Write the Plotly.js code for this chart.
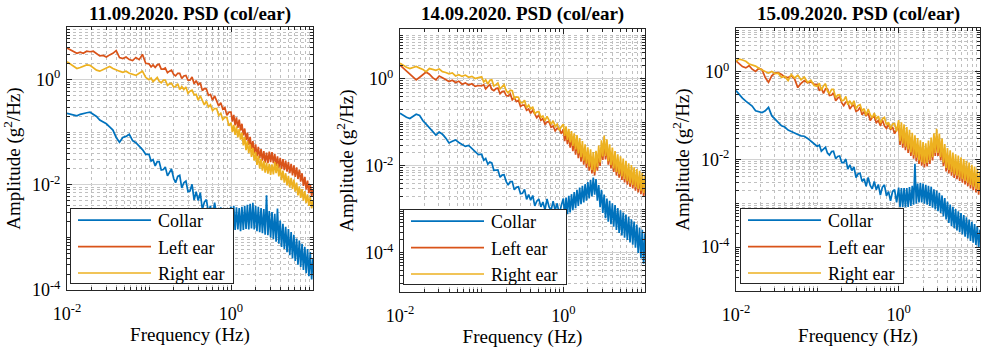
<!DOCTYPE html>
<html><head><meta charset="utf-8">
<script src="https://cdn.plot.ly/plotly-3.0.1.min.js"></script>
<style>html,body{margin:0;padding:0;background:#fff;}#chart{width:985px;height:348px;}</style>
</head><body><div id="chart"></div>
<script>
// Frequency (Hz), shared by every series
const frequency = [
0.0100,0.0110,0.0120,0.0132,0.0145,0.0158,0.0174,0.0191,0.0209,0.0229,0.0251,0.0275,0.0302,0.0331,0.0363,0.0398,0.0437,0.0479,0.0525,0.0575,0.0631,0.0692,0.0759,0.0832,0.0912,
0.100,0.106,0.112,0.119,0.126,0.133,0.141,0.150,0.158,0.168,0.178,0.188,0.200,0.211,0.224,0.237,0.251,0.266,0.282,0.299,0.316,0.335,0.355,0.376,0.398,0.422,0.447,0.473,0.501,0.531,0.562,0.596,0.631,0.668,0.708,0.750,0.794,0.841,0.891,0.944,
1.000,1.039,1.080,1.122,1.166,1.212,1.259,1.308,1.359,1.413,1.468,1.526,1.585,1.647,1.711,1.778,1.848,1.920,1.995,2.073,2.154,2.239,2.326,2.417,2.512,2.610,2.712,2.818,2.929,3.043,3.162,3.286,3.415,3.548,3.687,3.831,3.981,4.137,4.299,4.467,4.642,4.823,5.012,5.208,5.412,5.623,5.843,6.072,6.310,6.556,6.813,7.079,7.356,7.644,7.943,8.254,8.577,8.913,9.261,9.624,10.00];

// Amplitude, stored as log10(g^2/Hz)
const collar1Log = [
-0.64,-0.66,-0.68,-0.69,-0.66,-0.64,-0.63,-0.62,-0.66,-0.70,-0.77,-0.80,-0.84,-0.90,-0.96,-1.10,-1.19,-1.10,-1.08,-1.04,-1.16,-1.20,-1.26,-1.33,-1.42,
-1.42,-1.55,-1.52,-1.64,-1.56,-1.56,-1.72,-1.71,-1.66,-1.83,-1.75,-1.70,-1.88,-1.96,-1.84,-1.82,-2.06,-1.96,-1.93,-2.13,-2.12,-1.99,-2.29,-2.13,-2.30,-2.15,-2.47,-2.33,-2.28,-2.52,-2.40,-2.63,-2.34,-2.57,-2.68,-2.43,-2.68,-2.48,-2.79,-2.53,
-2.42,-2.84,-2.40,-2.86,-2.43,-2.85,-2.44,-2.88,-2.42,-2.86,-2.40,-2.84,-2.38,-2.85,-2.36,-2.83,-2.34,-2.85,-2.40,-2.88,-2.42,-2.90,-2.44,-2.92,-2.46,-2.95,-2.20,-2.96,-2.50,-3.00,-2.52,-3.03,-2.55,-3.08,-2.45,-3.12,-2.68,-3.18,-2.74,-3.22,-2.80,-3.28,-2.84,-3.34,-2.90,-3.40,-2.95,-3.45,-3.02,-3.52,-3.06,-3.56,-3.12,-3.62,-3.18,-3.68,-3.22,-3.74,-3.28,-3.80,-3.40];
const leftEar1Log = [
0.60,0.57,0.53,0.50,0.52,0.50,0.54,0.53,0.54,0.49,0.45,0.46,0.43,0.47,0.50,0.55,0.42,0.40,0.43,0.38,0.36,0.42,0.38,0.48,0.31,
0.30,0.24,0.28,0.23,0.28,0.29,0.20,0.20,0.22,0.13,0.16,0.18,0.10,0.07,0.12,0.12,0.02,0.07,0.08,-0.01,-0.01,0.05,-0.08,-0.02,-0.10,-0.06,-0.21,-0.17,-0.18,-0.30,-0.28,-0.39,-0.31,-0.42,-0.50,-0.44,-0.56,-0.53,-0.68,-0.62,
-0.62,-0.80,-0.67,-0.87,-0.72,-0.92,-0.76,-0.97,-0.84,-1.06,-0.93,-1.15,-1.01,-1.24,-1.09,-1.32,-1.17,-1.40,-1.23,-1.46,-1.28,-1.50,-1.32,-1.54,-1.36,-1.58,-1.39,-1.59,-1.37,-1.57,-1.38,-1.59,-1.41,-1.64,-1.46,-1.68,-1.49,-1.70,-1.51,-1.72,-1.54,-1.75,-1.57,-1.78,-1.60,-1.82,-1.63,-1.85,-1.67,-1.89,-1.71,-1.94,-1.78,-2.02,-1.85,-2.09,-1.92,-2.16,-1.99,-2.22,-2.08];
const rightEar1Log = [
0.34,0.30,0.25,0.21,0.23,0.25,0.28,0.27,0.22,0.18,0.16,0.19,0.22,0.25,0.21,0.18,0.16,0.14,0.16,0.12,0.10,0.08,0.12,0.16,0.04,
0.00,0.03,-0.04,0.00,0.04,-0.03,-0.06,-0.01,-0.01,-0.11,-0.08,-0.07,-0.14,-0.13,-0.08,-0.19,-0.13,-0.19,-0.14,-0.26,-0.22,-0.20,-0.29,-0.28,-0.39,-0.31,-0.41,-0.48,-0.41,-0.52,-0.48,-0.59,-0.55,-0.55,-0.68,-0.64,-0.76,-0.72,-0.72,-0.88,
-0.82,-1.00,-0.86,-1.05,-0.89,-1.10,-0.94,-1.14,-1.01,-1.25,-1.09,-1.34,-1.17,-1.40,-1.23,-1.47,-1.30,-1.54,-1.38,-1.62,-1.45,-1.69,-1.51,-1.73,-1.55,-1.77,-1.58,-1.79,-1.60,-1.81,-1.61,-1.80,-1.57,-1.78,-1.60,-1.84,-1.68,-1.91,-1.73,-1.96,-1.78,-2.01,-1.83,-2.05,-1.87,-2.08,-1.90,-2.13,-1.96,-2.20,-2.03,-2.25,-2.08,-2.30,-2.12,-2.35,-2.18,-2.40,-2.23,-2.45,-2.30];

const collar2Log = [
-0.79,-0.84,-0.88,-0.91,-0.86,-0.81,-0.84,-0.96,-1.04,-1.12,-1.21,-1.29,-1.22,-1.27,-1.36,-1.47,-1.43,-1.40,-1.46,-1.50,-1.55,-1.53,-1.60,-1.65,-1.74,
-1.73,-1.87,-1.83,-1.96,-1.91,-1.93,-2.10,-2.10,-2.09,-2.26,-2.21,-2.20,-2.36,-2.44,-2.36,-2.36,-2.55,-2.49,-2.48,-2.64,-2.63,-2.54,-2.77,-2.66,-2.79,-2.68,-2.92,-2.81,-2.76,-2.94,-2.83,-3.01,-2.76,-2.94,-3.02,-2.81,-3.02,-2.86,-3.12,-2.91,
-2.75,-3.14,-2.73,-3.11,-2.69,-3.07,-2.65,-3.02,-2.60,-2.97,-2.55,-2.92,-2.50,-2.88,-2.46,-2.84,-2.42,-2.80,-2.37,-2.75,-2.32,-2.70,-2.27,-2.66,-2.30,-2.80,-2.44,-2.95,-2.55,-3.08,-2.66,-3.20,-2.75,-3.28,-2.80,-3.34,-2.86,-3.40,-2.90,-3.47,-2.97,-3.54,-3.02,-3.60,-3.07,-3.65,-3.12,-3.70,-3.17,-3.76,-3.23,-3.81,-3.28,-3.88,-3.35,-4.00,-3.42,-4.12,-3.47,-4.25,-3.55];
const leftEar2Log = [
0.32,0.25,0.19,0.12,0.05,-0.02,0.04,0.10,0.16,0.11,0.03,-0.02,0.07,0.03,-0.02,-0.06,-0.03,-0.08,-0.05,-0.12,-0.09,-0.14,-0.11,-0.17,-0.15,
-0.16,-0.13,-0.23,-0.17,-0.13,-0.24,-0.27,-0.22,-0.21,-0.34,-0.29,-0.28,-0.38,-0.39,-0.34,-0.48,-0.43,-0.52,-0.49,-0.63,-0.60,-0.60,-0.72,-0.69,-0.79,-0.72,-0.82,-0.89,-0.83,-0.95,-0.91,-1.04,-0.99,-0.98,-1.11,-1.08,-1.19,-1.13,-1.14,-1.26,
-1.16,-1.43,-1.22,-1.50,-1.27,-1.58,-1.32,-1.66,-1.38,-1.74,-1.43,-1.82,-1.50,-1.90,-1.58,-1.97,-1.65,-2.04,-1.72,-2.11,-1.78,-2.17,-1.84,-2.22,-1.81,-2.11,-1.69,-2.00,-1.57,-1.86,-1.44,-1.85,-1.55,-1.97,-1.66,-2.06,-1.74,-2.14,-1.82,-2.22,-1.89,-2.27,-1.94,-2.32,-1.99,-2.38,-2.04,-2.43,-2.10,-2.48,-2.14,-2.52,-2.19,-2.57,-2.23,-2.61,-2.27,-2.65,-2.32,-2.70,-2.40];
const rightEar2Log = [
0.36,0.31,0.27,0.24,0.27,0.29,0.25,0.22,0.17,0.24,0.22,0.20,0.23,0.17,0.15,0.12,0.14,0.07,0.10,0.06,0.09,0.04,0.06,0.01,0.03,
0.05,-0.07,-0.02,-0.12,-0.03,-0.02,-0.16,-0.13,-0.09,-0.23,-0.17,-0.13,-0.27,-0.32,-0.26,-0.27,-0.45,-0.41,-0.42,-0.54,-0.55,-0.49,-0.66,-0.60,-0.69,-0.64,-0.80,-0.76,-0.75,-0.88,-0.85,-0.96,-0.86,-0.97,-1.04,-0.96,-1.09,-1.04,-1.18,-1.10,
-1.04,-1.31,-1.09,-1.40,-1.15,-1.46,-1.20,-1.54,-1.25,-1.62,-1.29,-1.71,-1.36,-1.80,-1.43,-1.88,-1.50,-1.95,-1.57,-2.02,-1.62,-2.09,-1.68,-2.14,-1.65,-2.03,-1.53,-1.92,-1.41,-1.78,-1.30,-1.77,-1.39,-1.89,-1.50,-1.98,-1.58,-2.06,-1.66,-2.14,-1.73,-2.19,-1.78,-2.24,-1.83,-2.30,-1.88,-2.35,-1.94,-2.40,-1.98,-2.44,-2.03,-2.49,-2.07,-2.53,-2.11,-2.57,-2.16,-2.62,-2.22];

const collar3Log = [
-0.43,-0.53,-0.60,-0.67,-0.72,-0.78,-0.89,-0.91,-0.93,-0.89,-0.81,-1.00,-1.07,-1.15,-1.23,-1.26,-1.33,-1.36,-1.40,-1.43,-1.46,-1.47,-1.52,-1.57,-1.64,
-1.70,-1.67,-1.81,-1.75,-1.72,-1.85,-1.90,-1.82,-1.81,-1.98,-1.93,-1.92,-2.07,-2.07,-1.99,-2.22,-2.12,-2.25,-2.17,-2.41,-2.33,-2.31,-2.50,-2.44,-2.61,-2.41,-2.59,-2.67,-2.50,-2.69,-2.57,-2.81,-2.63,-2.58,-2.83,-2.73,-2.94,-2.73,-2.69,-2.98,
-2.64,-3.08,-2.65,-3.09,-2.65,-3.09,-2.65,-3.08,-2.63,-3.06,-2.60,-3.03,-2.10,-3.01,-2.55,-2.98,-2.53,-2.98,-2.55,-3.01,-2.58,-3.03,-2.60,-3.06,-2.62,-3.10,-2.68,-3.14,-2.71,-3.18,-2.76,-3.22,-2.82,-3.30,-2.88,-3.37,-2.96,-3.45,-3.03,-3.52,-3.08,-3.57,-3.13,-3.62,-3.18,-3.66,-3.22,-3.71,-3.27,-3.76,-3.32,-3.80,-3.37,-3.86,-3.42,-3.90,-3.47,-3.95,-3.52,-4.02,-3.60];
const leftEar3Log = [
0.25,0.17,0.12,0.09,0.14,0.06,0.01,0.08,0.05,-0.13,-0.24,-0.09,-0.03,-0.02,-0.06,-0.12,-0.13,-0.09,-0.16,-0.36,-0.26,-0.20,-0.25,-0.23,-0.28,
-0.29,-0.43,-0.37,-0.49,-0.39,-0.39,-0.54,-0.53,-0.48,-0.66,-0.60,-0.57,-0.71,-0.77,-0.69,-0.69,-0.85,-0.78,-0.76,-0.90,-0.88,-0.81,-0.98,-0.91,-1.01,-0.94,-1.11,-1.04,-1.02,-1.16,-1.11,-1.23,-1.10,-1.23,-1.29,-1.20,-1.32,-1.26,-1.41,-1.33,
-1.24,-1.67,-1.30,-1.73,-1.36,-1.79,-1.42,-1.85,-1.48,-1.92,-1.55,-1.98,-1.61,-2.04,-1.67,-2.10,-1.72,-2.14,-1.76,-2.18,-1.79,-2.16,-1.73,-2.10,-1.67,-2.02,-1.57,-1.92,-1.47,-1.92,-1.57,-2.02,-1.68,-2.15,-1.81,-2.27,-1.90,-2.32,-1.95,-2.37,-2.00,-2.42,-2.04,-2.45,-2.07,-2.49,-2.11,-2.53,-2.15,-2.57,-2.19,-2.61,-2.23,-2.66,-2.28,-2.70,-2.32,-2.75,-2.37,-2.80,-2.45];
const rightEar3Log = [
0.25,0.29,0.27,0.24,0.18,0.16,0.13,0.08,0.04,0.00,-0.03,0.01,-0.04,-0.03,-0.13,-0.10,-0.20,-0.06,-0.14,-0.08,-0.18,-0.12,-0.24,-0.19,-0.31,
-0.33,-0.26,-0.42,-0.32,-0.27,-0.44,-0.49,-0.40,-0.40,-0.59,-0.53,-0.52,-0.66,-0.65,-0.56,-0.75,-0.66,-0.76,-0.66,-0.85,-0.77,-0.75,-0.89,-0.84,-0.99,-0.85,-0.98,-1.05,-0.94,-1.08,-1.01,-1.17,-1.07,-1.04,-1.21,-1.15,-1.30,-1.19,-1.18,-1.36,
-1.10,-1.58,-1.15,-1.64,-1.20,-1.71,-1.26,-1.77,-1.32,-1.84,-1.39,-1.90,-1.45,-1.96,-1.51,-2.02,-1.56,-2.06,-1.60,-2.10,-1.63,-2.08,-1.57,-2.02,-1.50,-1.95,-1.40,-1.85,-1.30,-1.85,-1.41,-1.95,-1.52,-2.07,-1.65,-2.19,-1.74,-2.24,-1.79,-2.29,-1.84,-2.34,-1.88,-2.37,-1.91,-2.41,-1.95,-2.45,-1.99,-2.49,-2.03,-2.53,-2.07,-2.58,-2.12,-2.62,-2.16,-2.67,-2.21,-2.72,-2.28];

const seriesNames = ['Collar', 'Left ear', 'Right ear'];
const seriesColors = ['#0072BD', '#D95319', '#EDB120'];
const panelTitles = ['11.09.2020. PSD (col/ear)', '14.09.2020. PSD (col/ear)', '15.09.2020. PSD (col/ear)'];
const panelData = [
  [collar1Log, leftEar1Log, rightEar1Log],
  [collar2Log, leftEar2Log, rightEar2Log],
  [collar3Log, leftEar3Log, rightEar3Log]
];
const xTickVals = [0.01, 1];
const xTickText = ['10<sup>-2</sup>', '10<sup>0</sup>'];
const yTickVals = [1e-4, 1e-2, 1];
const yTickText = ['10<sup>-4</sup>', '10<sup>-2</sup>', '10<sup>0</sup>'];

const W = 985, H = 348;
const FONT = 'Liberation Serif, Times New Roman, serif';
const boxes = [ // plot area in pixels: left, right, top, bottom; legend top-left corner
  {l: 67, r: 313, t: 27, b: 290, yr: [-4, 1], lg: [70, 201]},
  {l: 400, r: 645, t: 29, b: 292, yr: [-4.9, 1.15], lg: [403, 202]},
  {l: 736, r: 980, t: 28, b: 291, yr: [-5, 1], lg: [740, 201]}
];

const traces = [];
panelData.forEach((set, p) => {
  set.forEach((logs, s) => {
    traces.push({
      type: 'scatter', mode: 'lines',
      x: frequency, y: logs.map(v => Math.pow(10, v)),
      name: seriesNames[s],
      line: {color: seriesColors[s], width: 1.7},
      xaxis: p === 0 ? 'x' : 'x' + (p + 1),
      yaxis: p === 0 ? 'y' : 'y' + (p + 1),
      legend: p === 0 ? 'legend' : 'legend' + (p + 1),
      hoverinfo: 'skip'
    });
  });
});

const axisCommon = {
  type: 'log', showline: true, linecolor: '#262626', linewidth: 1, mirror: 'ticks',
  ticks: 'inside', ticklen: 5, tickcolor: '#262626', tickwidth: 1,
  showgrid: true, gridcolor: '#d2d2d2', gridwidth: 1, zeroline: false,
  tickfont: {family: FONT, size: 18, color: '#000'}, ticklabeloverflow: 'allow',
  minor: {dtick: 'D1', ticks: 'inside', ticklen: 3, tickcolor: '#262626', showgrid: true, gridcolor: '#c0c0c0', griddash: 'dot', gridwidth: 1},
  fixedrange: true, automargin: false
};

const layout = {
  width: W, height: H, margin: {l: 0, r: 0, t: 0, b: 0},
  paper_bgcolor: '#fff', plot_bgcolor: '#fff', showlegend: true,
  font: {family: FONT, color: '#000'},
  annotations: []
};
boxes.forEach((b, p) => {
  const sx = p === 0 ? '' : String(p + 1);
  layout['xaxis' + sx] = Object.assign({}, axisCommon, {
    domain: [b.l / W, b.r / W], anchor: 'y' + sx, range: [-2, 1],
    tickmode: 'array', tickvals: xTickVals, ticktext: xTickText, ticklabelstandoff: 7,
    title: {text: 'Frequency (Hz)', font: {family: FONT, size: 19, color: '#000'}, standoff: 4}
  });
  layout['yaxis' + sx] = Object.assign({}, axisCommon, {
    domain: [1 - b.b / H, 1 - b.t / H], anchor: 'x' + sx, range: b.yr,
    tickmode: 'array', tickvals: yTickVals, ticktext: yTickText, ticklabelstandoff: 2,
    title: {text: 'Amplitude (g<sup>2</sup>/Hz)', font: {family: FONT, size: 19, color: '#000'}, standoff: 6}
  });
  layout['legend' + (p === 0 ? '' : p + 1)] = {
    x: b.lg[0] / W, y: 1 - b.lg[1] / H, xanchor: 'left', yanchor: 'top',
    xref: 'paper', yref: 'paper',
    bgcolor: '#fff', bordercolor: '#262626', borderwidth: 1,
    font: {family: FONT, size: 18, color: '#000'}, itemwidth: 77
  };
  layout.annotations.push({
    text: '<b>' + panelTitles[p] + '</b>', xref: 'paper', yref: 'paper',
    x: (b.l + b.r) / 2 / W, y: 1 - 14 / H, xanchor: 'center', yanchor: 'middle',
    showarrow: false, font: {family: FONT, size: 19, color: '#000'}
  });
});

Plotly.newPlot('chart', traces, layout, {staticPlot: true, displayModeBar: false}).then(gd => {
  // MATLAB-style legend: long line samples, tight box
  gd.querySelectorAll('g.legendlines path').forEach(pth => pth.setAttribute('d', 'M7,0h73'));
  gd.querySelectorAll('.infolayer rect.bg').forEach(r => {
    const y = parseFloat(r.getAttribute('y')) || 0;
    const h = parseFloat(r.getAttribute('height')) || 0;
    const w = parseFloat(r.getAttribute('width')) || 0;
    r.setAttribute('y', y + 7);
    r.setAttribute('height', Math.max(0, h - 16));
    r.setAttribute('width', w + 3);
  });
});
</script>
</body></html>
